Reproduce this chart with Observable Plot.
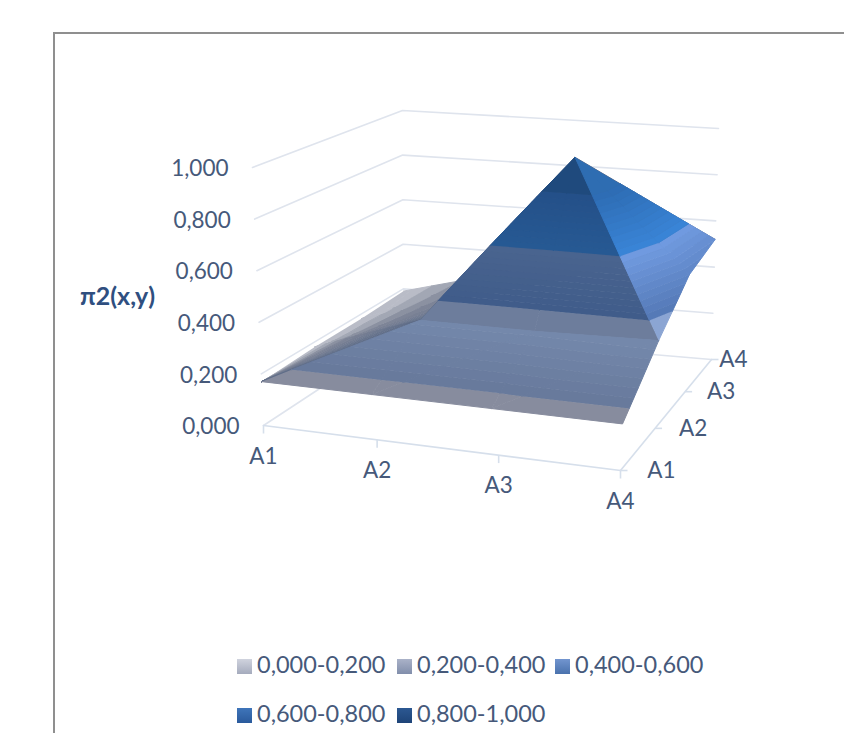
<!DOCTYPE html>
<html>
<head>
<meta charset="utf-8">
<script src="https://cdn.jsdelivr.net/npm/d3@7"></script>
<script src="https://cdn.jsdelivr.net/npm/@observablehq/plot@0.6"></script>
<style>
  html, body { margin: 0; background: #fff; }
  #page { position: relative; width: 844px; height: 733px; overflow: hidden; font-family: Lato, sans-serif; }
  #frame { position: absolute; left: 53px; top: 32px; width: 800px; height: 720px; border: 2px solid #8f8f8f; box-sizing: border-box; }
  #chart { position: absolute; left: 0; top: 0; }
  #legend { position: absolute; left: 237px; top: 640px; width: 500px; color: #46597a; font-size: 23.5px; line-height: 49px; display: grid; grid-template-columns: 160px 158px 170px; }
  #legend .item { white-space: nowrap; }
  #legend .swatch { display: inline-block; width: 15px; height: 15px; margin-right: 5px; vertical-align: -1px; }
</style>
</head>
<body>
<div id="page">
  <div id="frame"></div>
  <div id="chart"></div>
  <div id="legend"></div>
</div>
<script>
// Surface heights, one list per depth category, in the order of the width categories.
const categories = ["A1", "A2", "A3", "A4"];
const rowA1 = [0.17, 0.17, 0.17, 0.17];
const rowA2 = [0.18, 0.33, 0.33, 0.34];
const rowA3 = [0.18, 0.30, 0.93, 0.48];
const rowA4 = [0.19, 0.30, 0.35, 0.52];
const rows = [rowA1, rowA2, rowA3, rowA4];

const heightTicks = [0, 0.2, 0.4, 0.6, 0.8, 1];
const bandEdges = [0, 0.2, 0.4, 0.6, 0.8, 1];
const bandLabels = ["0,000-0,200", "0,200-0,400", "0,400-0,600", "0,600-0,800", "0,800-1,000"];

// Band colours for each way a facet leans; a pair shades from the band's low edge to its high edge.
const facetColors = {
  front: ["#878c9e", ["#67799b", "#7b90b4"], "#5f7aa6", "#27558f", "#1f4a7d"],
  steep: ["#878c9e", "#6d7d9c", ["#3f5c8a", "#4a648f"], ["#265a94", "#244f88"], "#1f4a7d"],
  right: ["#9aa8c8", "#8ba5d3", ["#5378b5", "#719ce2"], ["#3a85d8", "#2d6cb3"], "#2e6db2"]
};
// The shoulder beside the front crease fades from the crease to the outer edge.
const shoulder = d3.scaleLinear().domain([0, 0.3, 1]).range(["#c4c7d0", "#7f8698", "#5d6b87"]);
const swatches = [
  ["#d0d3de", "#a5abbd"], ["#aab2c8", "#818eab"], ["#7295cf", "#4a72ad"],
  ["#3f75ba", "#2a5a9c"], ["#2c5892", "#1e4478"]
];

// Oblique view of the unit box: floor and lid are each a perspective quad,
// heights blend between them.
function quadMap([p0, p1, p2, p3]) {
  const dx1 = p1[0] - p2[0], dx2 = p3[0] - p2[0], sx = p0[0] - p1[0] + p2[0] - p3[0];
  const dy1 = p1[1] - p2[1], dy2 = p3[1] - p2[1], sy = p0[1] - p1[1] + p2[1] - p3[1];
  const den = dx1 * dy2 - dx2 * dy1;
  const g = (sx * dy2 - dx2 * sy) / den, h = (dx1 * sy - sx * dy1) / den;
  return (u, v) => {
    const w = 1 + g * u + h * v;
    return [
      ((p1[0] * (1 + g) - p0[0]) * u + (p3[0] * (1 + h) - p0[0]) * v + p0[0]) / w,
      ((p1[1] * (1 + g) - p0[1]) * u + (p3[1] * (1 + h) - p0[1]) * v + p0[1]) / w
    ];
  };
}
const floorView = quadMap([[263, 425], [620, 470], [711, 359], [403, 333]]);
const lidView = quadMap([[252, 167], [632, 196], [718, 128], [402, 110]]);
function project(u, v, z) {
  const a = floorView(u, v), b = lidView(u, v);
  return [a[0] + (b[0] - a[0]) * z, a[1] + (b[1] - a[1]) * z];
}
const n = categories.length - 1;
const gridPoint = (i, j) => ({u: i / n, v: j / n, z: rows[j][i]});

// Split each grid cell into two triangles along the chosen diagonal.
const triangles = [];
for (let j = 0; j < n; ++j) {
  for (let i = 0; i < n; ++i) {
    const a = gridPoint(i, j), b = gridPoint(i + 1, j), c = gridPoint(i + 1, j + 1), d = gridPoint(i, j + 1);
    triangles.push([a, b, c], [a, c, d]);
  }
}
// Swap the diagonal of the cell that holds the ridge down to the right edge.
triangles[10] = [gridPoint(2, 1), gridPoint(3, 1), gridPoint(2, 2)];
triangles[11] = [gridPoint(3, 1), gridPoint(3, 2), gridPoint(2, 2)];

function lean(t) {
  const ux = t[1].u - t[0].u, uy = t[1].v - t[0].v, uz = t[1].z - t[0].z;
  const vx = t[2].u - t[0].u, vy = t[2].v - t[0].v, vz = t[2].z - t[0].z;
  const nx = uy * vz - uz * vy, ny = uz * vx - ux * vz, nz = ux * vy - uy * vx;
  const dzdu = -nx / nz, dzdv = -ny / nz;
  if (dzdu < -0.1) return "right";
  if (dzdu > 0.1) return "left";
  return dzdv > 1 ? "steep" : "front";
}

// Keep the part of a polygon on one side of a level of the field f.
function clip(points, f, level, keepAbove) {
  const out = [];
  points.forEach((p, i) => {
    const q = points[(i + 1) % points.length];
    const fp = f(p), fq = f(q);
    const pIn = keepAbove ? fp >= level : fp <= level;
    const qIn = keepAbove ? fq >= level : fq <= level;
    if (pIn) out.push(p);
    if (pIn !== qIn) {
      const t = (level - fp) / (fq - fp);
      out.push({u: p.u + (q.u - p.u) * t, v: p.v + (q.v - p.v) * t, z: p.z + (q.z - p.z) * t});
    }
  });
  return out;
}
const between = (points, f, lo, hi) => clip(clip(points, f, lo, true), f, hi, false);
const height = p => p.z;

// Far facets first so that nearer ones paint over them.
const depth = t => d3.mean(t, p => p.v - p.u);
const ordered = d3.sort(triangles, t => -depth(t));
const facets = [];
let nextId = 0;
function addPiece(piece, color) {
  if (piece.length < 3) return;
  const id = nextId++;
  piece.forEach(p => {
    const [x, y] = project(p.u, p.v, p.z);
    facets.push({x, y, id, color});
  });
}
const slices = 10;
ordered.forEach(t => {
  const kind = lean(t);
  d3.range(bandLabels.length).forEach(b => {
    const lo = bandEdges[b], hi = bandEdges[b + 1];
    const piece = between(t, height, lo, hi);
    if (piece.length < 3) return;
    if (kind === "left") {
      // Fan of slices around the near corner: u/v is 1 on the crease and 0 on the outer edge.
      d3.range(slices).forEach(s => {
        const a = s / slices, c = (s + 1) / slices;
        const part = clip(clip(piece, p => p.u - a * p.v, 0, true), p => p.u - c * p.v, 0, false);
        addPiece(part, shoulder((a + c) / 2));
      });
      return;
    }
    const style = facetColors[kind][b];
    if (typeof style === "string") {
      addPiece(piece, style);
    } else {
      const mix = d3.interpolateRgb(style[0], style[1]);
      d3.range(slices).forEach(s => {
        const a = lo + (hi - lo) * s / slices, c = lo + (hi - lo) * (s + 1) / slices;
        addPiece(between(piece, height, a, c), mix((s + 0.5) / slices));
      });
    }
  });
});

const wallLines = heightTicks.flatMap(z => [[0, 0], [0, 1], [1, 1]].map(([u, v]) => {
  const [x, y] = project(u, v, z);
  return {x, y, z};
}));
const floorEdges = [[0, 0, "f"], [1, 0, "f"], [1, 0, "r"], [1, 1, "r"]].map(([u, v, id]) => {
  const [x, y] = project(u, v, 0);
  return {x, y, id};
});
const heightLabels = heightTicks.map(z => {
  const [x, y] = project(0, 0, z);
  return {x, y, text: d3.format(".3f")(z).replace(".", ",")};
});
// Axis tick nudges keep the category marks evenly spread along the near edges.
const widthTickShift = [0, 5, 8, 0];
const depthLabelShift = [41, 38, 36, 22];
const widthTicks = categories.map((text, i) => {
  const [x, y] = project(i / n, 0, 0);
  return {x: x + widthTickShift[i], y: y + widthTickShift[i] * 0.12, text};
});
const depthTicks = categories.map((text, i) => {
  const [x, y] = project(1, i / n, 0);
  return {x, y, text};
});

const labelFont = {fontFamily: "Lato, sans-serif", fontSize: 22.5, fill: "#46597a"};
const chart = Plot.plot({
  width: 844,
  height: 640,
  margin: 0,
  style: {background: "transparent"},
  x: {type: "identity", axis: null},
  y: {type: "identity", axis: null},
  color: {type: "identity"},
  marks: [
    Plot.line(wallLines, {x: "x", y: "y", z: "z", stroke: "#dfe4ed", strokeWidth: 1.6}),
    Plot.line(floorEdges, {x: "x", y: "y", z: "id", stroke: "#d6dfeb", strokeWidth: 1.6}),
    Plot.link(widthTicks, {x1: "x", y1: "y", x2: "x", y2: d => d.y + 8, stroke: "#d6dfeb", strokeWidth: 1.6}),
    Plot.link(depthTicks, {x1: "x", y1: "y", x2: d => d.x + 7, y2: "y", stroke: "#d6dfeb", strokeWidth: 1.6}),
    Plot.line(facets, {x: "x", y: "y", z: "id", fill: "color", stroke: "color", strokeWidth: 1}),
    Plot.text(heightLabels, {x: d => d.x - 24, y: d => d.y + 1.5, text: "text", textAnchor: "end", ...labelFont}),
    Plot.text(widthTicks, {x: "x", y: d => d.y + 31, text: "text", ...labelFont}),
    Plot.text(depthTicks, {x: (d, i) => d.x + depthLabelShift[i], y: "y", text: "text", ...labelFont}),
    Plot.text(["π2(x,y)"], {x: () => 117, y: () => 296, text: d => d, fontFamily: "Lato, sans-serif", fontWeight: "bold", fontSize: 25, fill: "#2f4f80"})
  ]
});
document.getElementById("chart").appendChild(chart);

const legend = d3.select("#legend");
legend.selectAll(".item").data(bandLabels).join("span").attr("class", "item").each(function (label, i) {
  const item = d3.select(this);
  item.append("span").attr("class", "swatch")
    .style("background", `linear-gradient(${swatches[i][0]}, ${swatches[i][1]})`);
  item.append("span").text(label);
});
</script>
</body>
</html>
